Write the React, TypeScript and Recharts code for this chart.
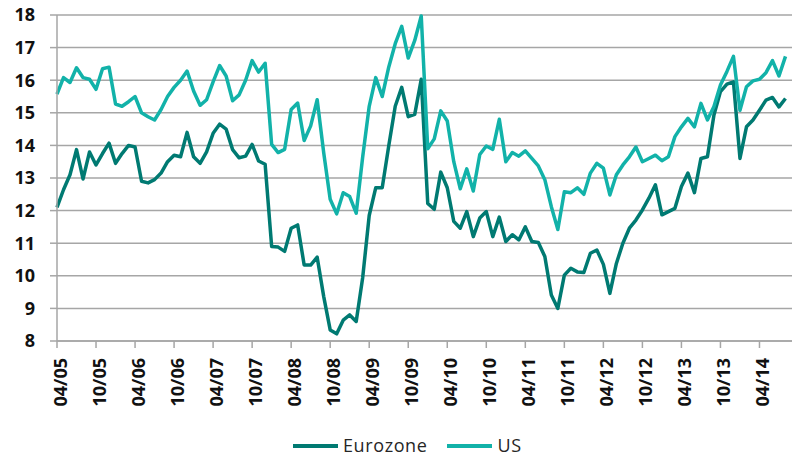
import React from 'react';
import { LineChart, Line, XAxis, YAxis, CartesianGrid } from 'recharts';

// Monthly series, April 2005 .. August 2014
const START_YEAR = 2005;
const START_MONTH = 4;

const eurozone = [
  12.1, 12.64, 13.1, 13.87, 12.97, 13.8, 13.4, 13.75, 14.07, 13.45,
  13.75, 14.0, 13.95, 12.9, 12.85, 12.95, 13.15, 13.5, 13.7, 13.65,
  14.4, 13.65, 13.45, 13.8, 14.37, 14.65, 14.5, 13.87, 13.62, 13.67,
  14.03, 13.52, 13.42, 10.9, 10.88, 10.75, 11.46, 11.56, 10.33, 10.33,
  10.57, 9.37, 8.34, 8.22, 8.64, 8.8, 8.6, 9.95, 11.85, 12.7,
  12.7, 13.98, 15.2, 15.78, 14.88, 14.95, 16.03, 12.22, 12.04, 13.18,
  12.7, 11.67, 11.46, 11.97, 11.2, 11.77, 11.97, 11.2, 11.8, 11.05,
  11.26, 11.1, 11.5, 11.05, 11.02, 10.59, 9.41, 9.0, 10.02, 10.23,
  10.12, 10.1, 10.69, 10.79, 10.35, 9.46, 10.38, 11.0, 11.46, 11.71,
  12.02, 12.38, 12.79, 11.87, 11.97, 12.07, 12.74, 13.15, 12.55, 13.6,
  13.65, 14.93, 15.65, 15.88, 15.95, 13.6, 14.57, 14.78, 15.08, 15.39,
  15.47, 15.18, 15.44,
];

const us = [
  15.57, 16.08, 15.93, 16.38, 16.08, 16.03, 15.72, 16.35, 16.4, 15.27,
  15.2, 15.34, 15.5, 15.0, 14.88, 14.78, 15.1, 15.5, 15.78, 16.0,
  16.28, 15.67, 15.23, 15.4, 15.95, 16.45, 16.13, 15.37, 15.55, 16.0,
  16.6, 16.25, 16.52, 14.03, 13.78, 13.88, 15.1, 15.3, 14.15, 14.6,
  15.4, 13.78, 12.35, 11.9, 12.55, 12.43, 11.92, 13.65, 15.2, 16.08,
  15.5, 16.4, 17.12, 17.65, 16.68, 17.22, 17.97, 13.9, 14.2, 15.06,
  14.75, 13.5, 12.67, 13.28, 12.6, 13.72, 13.98, 13.88, 14.8, 13.5,
  13.78, 13.67, 13.83, 13.6, 13.37, 12.95, 12.12, 11.42, 12.58, 12.55,
  12.7, 12.5, 13.15, 13.45, 13.3, 12.48, 13.1, 13.4, 13.65, 13.95,
  13.5, 13.6, 13.7, 13.53, 13.65, 14.27, 14.57, 14.83, 14.57, 15.29,
  14.78, 15.19, 15.85, 16.27, 16.73, 15.08, 15.8, 15.98, 16.03, 16.23,
  16.6, 16.13, 16.73,
];

const months = eurozone.map((_, i) => {
  const k = START_MONTH - 1 + i;
  const m = (k % 12) + 1;
  const y = (START_YEAR + Math.floor(k / 12)) % 100;
  return `${String(m).padStart(2, '0')}/${String(y).padStart(2, '0')}`;
});

const xTickLabels = [
  '04/05', '10/05', '04/06', '10/06', '04/07', '10/07', '04/08', '10/08',
  '04/09', '10/09', '04/10', '10/10', '04/11', '10/11', '04/12', '10/12',
  '04/13', '10/13', '04/14',
];

const yTicks = [8, 9, 10, 11, 12, 13, 14, 15, 16, 17, 18];

const seriesNames = ['Eurozone', 'US'];
const seriesColors = ['#007A72', '#12B2A9'];

const data = months.map((m, i) => ({
  idx: i,
  month: m,
  Eurozone: eurozone[i],
  US: us[i],
}));

const xTickIdx = xTickLabels.map((l) => months.indexOf(l));

const FONT = '"Open Sans", "Liberation Sans", sans-serif';
const GRID = '#A6A6A6';

const XTick = (props: any) => {
  const { x, y, payload } = props;
  return (
    <text
      x={x}
      y={y}
      dy={9.5}
      transform={`rotate(-90, ${x}, ${y})`}
      textAnchor="end"
      fontFamily={FONT}
      fontWeight={700}
      fontSize={18}
      fill="#111"
    >
      {months[payload.value]}
    </text>
  );
};

const ChartLegend = () => (
  <div
    style={{
      position: 'absolute',
      left: 293,
      top: 434,
      height: 22,
      display: 'flex',
      alignItems: 'center',
      fontFamily: FONT,
      fontSize: 18,
      letterSpacing: 0.6,
      color: '#262626',
      whiteSpace: 'nowrap',
    }}
  >
    {seriesNames.map((n, i) => (
      <div key={n} style={{ display: 'flex', alignItems: 'center', marginRight: i === 0 ? 20 : 0 }}>
        <div style={{ width: 45, height: 4, background: seriesColors[i], marginRight: 5, marginTop: 2 }} />
        <span style={{ lineHeight: '22px' }}>{n}</span>
      </div>
    ))}
  </div>
);

export default function App() {
  return (
    <div style={{ position: 'absolute', left: 0, top: 0, width: 800, height: 458, background: '#fff' }}>
      <LineChart width={800} height={458} data={data} margin={{ top: 15, right: 8, left: 0, bottom: 0 }}>
        <CartesianGrid vertical={false} stroke={GRID} strokeWidth={1.5} />
        <XAxis
          dataKey="idx"
          type="number"
          domain={[0, 112.5]}
          ticks={xTickIdx}
          interval={0}
          height={117}
          tick={<XTick />}
          tickSize={7}
          tickMargin={10}
          stroke={GRID}
          strokeWidth={1.5}
          allowDecimals={false}
        />
        <YAxis
          domain={[8, 18]}
          ticks={yTicks}
          interval={0}
          width={57}
          tickSize={7}
          tickMargin={15}
          stroke={GRID}
          strokeWidth={1.5}
          tick={{ fontFamily: FONT, fontWeight: 700, fontSize: 18, fill: '#111' }}
        />
        {seriesNames.map((n, i) => (
          <Line
            key={n}
            dataKey={n}
            type="linear"
            stroke={seriesColors[i]}
            strokeWidth={3.5}
            dot={false}
            isAnimationActive={false}
            strokeLinejoin="round"
          />
        ))}
      </LineChart>
      <ChartLegend />
    </div>
  );
}
